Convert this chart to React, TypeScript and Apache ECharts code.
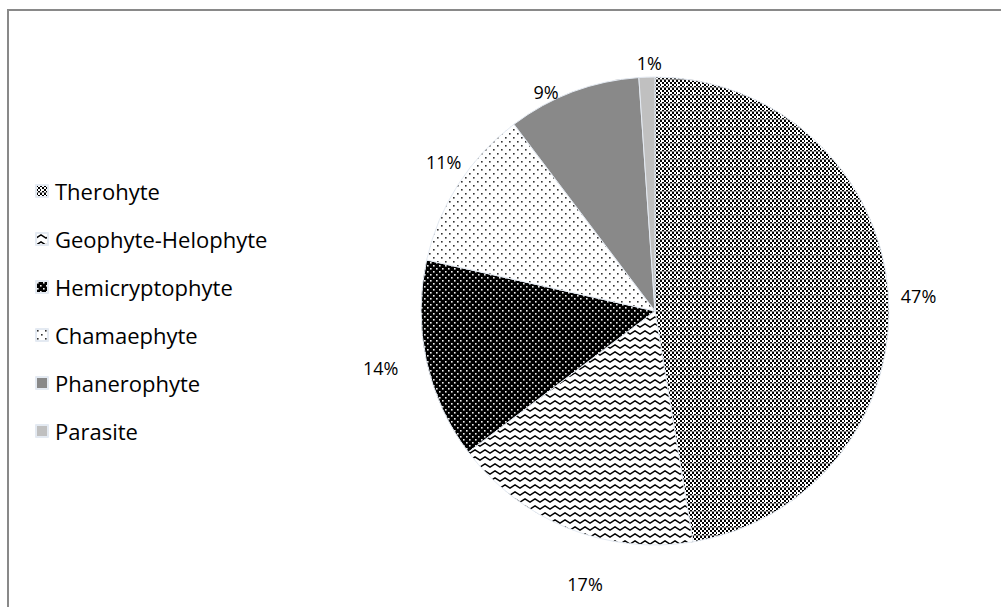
import React, { useEffect, useRef } from 'react';
import * as echarts from 'echarts';

const categories = ['Therohyte', 'Geophyte-Helophyte', 'Hemicryptophyte', 'Chamaephyte', 'Phanerophyte', 'Parasite'];
const shares = [47.4, 17.3, 13.8, 11.2, 9.2, 1.1];

const CX = 655;
const CY = 311;
const R = 234;
const LABEL_GAP = 7;
// small manual nudges of the percentage labels (styling, px)
const labelNudgeX = [5, 25, -20, 8, -20, 3];
const labelNudgeY = [6, 35, 2, -8, 19, 2];

type Draw = (ctx: CanvasRenderingContext2D) => void;

function tile(w: number, h: number, draw: Draw) {
  const c = document.createElement('canvas');
  c.width = w;
  c.height = h;
  const ctx = c.getContext('2d') as CanvasRenderingContext2D;
  draw(ctx);
  return { image: c.toDataURL(), repeat: 'repeat', imageWidth: w, imageHeight: h };
}

function makePatterns() {
  const thero = tile(8, 8, (ctx) => {
    ctx.fillStyle = '#fff';
    ctx.fillRect(0, 0, 8, 8);
    ctx.fillStyle = '#000';
    for (let y = 0; y < 8; y += 2) {
      for (let x = 0; x < 8; x += 2) {
        if (((x >> 1) + (y >> 1)) % 2 === 0) ctx.fillRect(x, y, 2, 2);
      }
    }
    ctx.fillStyle = '#fff';
    ctx.fillRect(5, 4, 2, 2);
    ctx.fillStyle = '#888';
    ctx.fillRect(0, 7, 8, 1);
  });
  const geo = tile(10, 7, (ctx) => {
    ctx.fillStyle = '#fff';
    ctx.fillRect(0, 0, 10, 7);
    ctx.strokeStyle = '#000';
    ctx.lineWidth = 1.4;
    ctx.beginPath();
    ctx.moveTo(-2.5, 3.5);
    ctx.lineTo(0, 5.2);
    ctx.lineTo(5, 1.8);
    ctx.lineTo(10, 5.2);
    ctx.lineTo(12.5, 3.5);
    ctx.stroke();
  });
  const hemi = tile(6, 6, (ctx) => {
    ctx.fillStyle = '#000';
    ctx.fillRect(0, 0, 6, 6);
    ctx.fillStyle = '#f0f0f0';
    ctx.fillRect(1, 1, 1.6, 1.6);
    ctx.fillRect(4, 4, 1.6, 1.6);
  });
  const chamae = tile(8, 8, (ctx) => {
    ctx.fillStyle = '#fff';
    ctx.fillRect(0, 0, 8, 8);
    ctx.fillStyle = '#333';
    ctx.fillRect(1, 1, 1.6, 1.6);
    ctx.fillRect(5, 5, 1.6, 1.6);
  });
  return [thero, geo, hemi, chamae, '#898989', '#c0c0c0'];
}

export default function App() {
  const ref = useRef<HTMLDivElement>(null);
  useEffect(() => {
    document.body.style.margin = '0';
    const chart = echarts.init(ref.current as HTMLDivElement, undefined, { renderer: 'svg' });
    const fills = makePatterns();
    const total = shares.reduce((a, b) => a + b, 0);
    const mids: number[] = [];
    let acc = 0;
    shares.forEach((v) => {
      mids.push(((acc + v / 2) / total) * Math.PI * 2);
      acc += v;
    });
    const data = categories.map((name, i) => ({
      name,
      value: shares[i],
      itemStyle: { color: fills[i] as any },
    }));
    chart.setOption({
      animation: false,
      backgroundColor: '#fff',
      graphic: [
        {
          type: 'rect',
          shape: { x: 8, y: 10, width: 1010, height: 620 },
          style: { fill: 'none', stroke: '#898989', lineWidth: 2 },
          silent: true,
        },
      ],
      legend: {
        orient: 'vertical',
        left: 35,
        top: 179,
        padding: 0,
        itemWidth: 12,
        itemHeight: 12,
        itemGap: 24,
        icon: 'rect',
        data: categories,
        textStyle: { fontFamily: 'Open Sans', fontSize: 22, color: '#000', lineHeight: 24, padding: [0, 0, 0, 2] },
      },
      series: [
        {
          type: 'pie',
          center: [CX, CY],
          radius: R,
          startAngle: 90,
          clockwise: true,
          data,
          itemStyle: { borderColor: '#e4eaf2', borderWidth: 1 },
          label: {
            show: true,
            position: 'outside',
            fontFamily: 'Open Sans',
            fontSize: 18,
            color: '#000',
            formatter: (p: any) => Math.round(p.percent) + '%',
          },
          labelLine: { show: false, length: 8, length2: 6 },
          labelLayout: (p: any) => {
            const i = p.dataIndex;
            const a = mids[i];
            const dx = Math.sin(a);
            const dy = -Math.cos(a);
            const w = p.labelRect.width;
            const h = p.labelRect.height;
            const d = R + (Math.abs(dx) * w) / 2 + (Math.abs(dy) * h) / 2 + LABEL_GAP;
            return {
              x: CX + dx * d + labelNudgeX[i],
              y: CY + dy * d + labelNudgeY[i],
              align: 'center',
              verticalAlign: 'middle',
            };
          },
          emphasis: { disabled: true },
        },
      ],
    });
    return () => chart.dispose();
  }, []);
  return <div ref={ref} style={{ width: 1001, height: 607 }} />;
}
